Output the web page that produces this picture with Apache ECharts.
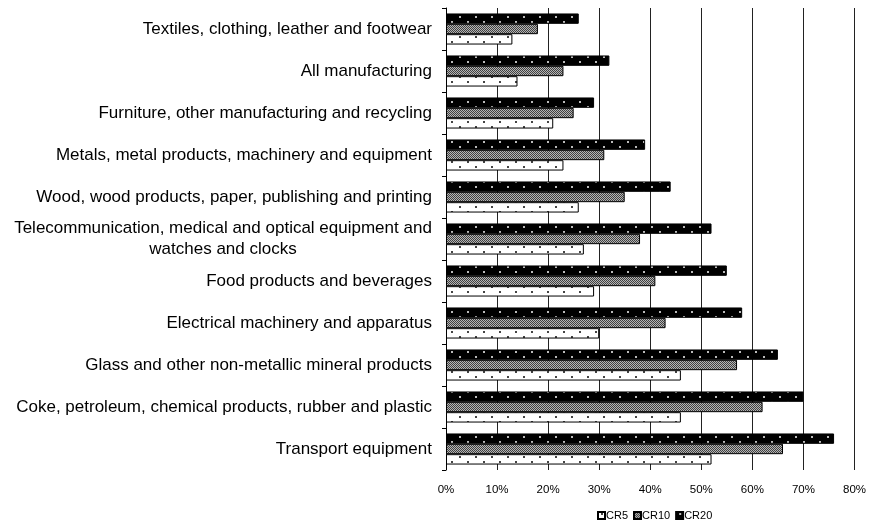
<!DOCTYPE html>
<html><head><meta charset="utf-8">
<script src="https://cdn.jsdelivr.net/npm/echarts@6/dist/echarts.min.js"></script>
<style>html,body{margin:0;padding:0;background:#fff}#c{width:869px;height:527px}</style>
</head><body><div id="c"></div>
<script>
// bottom to top
const categories = [
  "Transport equipment",
  "Coke, petroleum, chemical products, rubber and plastic",
  "Glass and other non-metallic mineral products",
  "Electrical machinery and apparatus",
  "Food products and beverages",
  "Telecommunication, medical and optical equipment and\nwatches and clocks",
  "Wood, wood products, paper, publishing and printing",
  "Metals, metal products, machinery and equipment",
  "Furniture, other manufacturing and recycling",
  "All manufacturing",
  "Textiles, clothing, leather and footwear"
];
const cr5  = [52, 46, 46, 30, 29, 27, 26, 23, 21, 14, 13];
const cr10 = [66, 62, 57, 43, 41, 38, 35, 31, 25, 23, 18];
const cr20 = [76, 70, 65, 58, 55, 52, 44, 39, 29, 32, 26];
const xTicks = [0, 10, 20, 30, 40, 50, 60, 70, 80];

function pat(w, h, draw) {
  const c = document.createElement('canvas');
  c.width = w; c.height = h;
  const g = c.getContext('2d');
  draw(g);
  return { image: c, repeat: 'repeat' };
}
const pCR5 = pat(16, 10, g => {
  g.fillStyle = '#fff'; g.fillRect(0, 0, 16, 10);
  g.fillStyle = '#444';
  g.fillRect(3, 1, 2, 2); g.fillRect(11, 6, 2, 2);
});
const pCR10 = pat(2, 2, g => {
  g.fillStyle = '#b4b4b4'; g.fillRect(0, 0, 2, 2);
  g.fillStyle = '#404040'; g.fillRect(0, 0, 1, 1); g.fillRect(1, 1, 1, 1);
});
const pCR20 = pat(16, 10, g => {
  g.fillStyle = '#000'; g.fillRect(0, 0, 16, 10);
  g.fillStyle = '#bbb';
  g.fillRect(3, 1, 2, 2); g.fillRect(11, 6, 2, 2);
});

const chart = echarts.init(document.getElementById('c'), null, { renderer: 'canvas' });
const barCommon = { type: 'bar', barGap: '0%', barCategoryGap: '26%' };
chart.setOption({
  animation: false,
  textStyle: { fontFamily: 'Liberation Sans, Arial, sans-serif' },
  grid: { left: 446, right: 13, top: 8, bottom: 57, containLabel: false },
  legend: {
    bottom: 1, left: 592, itemWidth: 7, itemHeight: 7, itemGap: 5, icon: 'rect',
    textStyle: { fontSize: 11, color: '#000', padding: [0, 0, 0, -4] },
    data: ['CR5', 'CR10', 'CR20']
  },
  xAxis: {
    type: 'value', min: 0, max: 80, interval: 10,
    axisLabel: { formatter: v => v + '%', fontSize: 11.5, color: '#000', margin: 14 },
    axisLine: { show: false }, axisTick: { show: false },
    splitLine: { show: true, lineStyle: { color: '#222', width: 1 } }
  },
  yAxis: {
    type: 'category', data: categories,
    axisLine: { show: true, lineStyle: { color: '#000' } },
    axisTick: { show: true, length: 4, lineStyle: { color: '#000' } },
    axisLabel: {
      fontSize: 17, color: '#000', margin: 14, lineHeight: 21,
      formatter: v => {
        if (v.indexOf('\n') >= 0) {
          const parts = v.split('\n');
          return '{a|' + parts[0] + '}\n{b|' + parts[1] + '}';
        }
        return v;
      },
      rich: {
        a: { fontSize: 17, color: '#000', lineHeight: 21, width: 418, align: 'center' },
        b: { fontSize: 17, color: '#000', lineHeight: 21, width: 418, align: 'center' }
      }
    }
  },
  series: [
    Object.assign({ name: 'CR20', data: cr20, itemStyle: { color: pCR20, borderColor: '#000', borderWidth: 1 } }, barCommon),
    Object.assign({ name: 'CR10', data: cr10, itemStyle: { color: pCR10, borderColor: '#000', borderWidth: 1 } }, barCommon),
    Object.assign({ name: 'CR5', data: cr5, itemStyle: { color: pCR5, borderColor: '#000', borderWidth: 1 } }, barCommon)
  ]
});
</script></body></html>
